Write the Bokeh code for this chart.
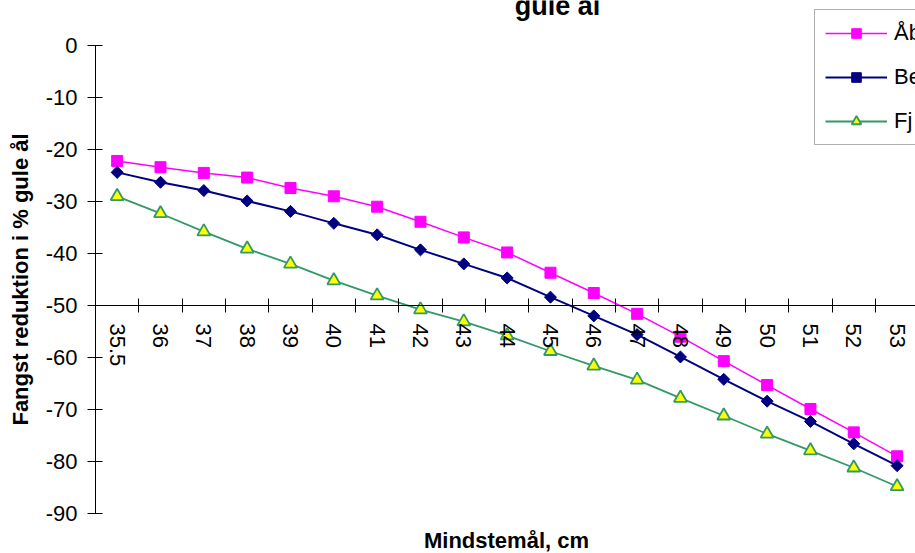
import math
from bokeh.plotting import figure
from bokeh.models import Range1d, FixedTicker, LinearAxis, Label, Legend, LegendItem
from bokeh.embed import file_html
from bokeh.resources import INLINE

categories = ["35.5", "36", "37", "38", "39", "40", "41", "42", "43", "44",
              "45", "46", "47", "48", "49", "50", "51", "52", "53"]
aab = [-22.2, -23.4, -24.5, -25.4, -27.4, -29.0, -31.0, -33.9, -36.9, -39.8,
       -43.7, -47.6, -51.6, -56.0, -60.7, -65.3, -69.9, -74.4, -79.0]
be = [-24.4, -26.3, -27.9, -29.9, -31.9, -34.2, -36.4, -39.3, -42.0, -44.7,
      -48.4, -52.0, -55.6, -59.9, -64.2, -68.4, -72.3, -76.6, -80.8]
fj = [-29.0, -32.3, -35.8, -39.1, -42.0, -45.2, -48.1, -50.8, -53.1, -55.8,
      -58.8, -61.6, -64.3, -67.8, -71.2, -74.7, -77.9, -81.2, -84.8]
y_ticks = [0, -10, -20, -30, -40, -50, -60, -70, -80, -90]
y_tick_labels = ["0", "-10", "-20", "-30", "-40", "-50", "-60", "-70", "-80", "-90"]
series_names = ["Åb", "Be", "Fj"]
title_text = "gule ål"
x_title = "Mindstemål, cm"
y_title = "Fangst reduktion i % gule ål"
x_axis_crossing = -50

FONT = "Liberation Sans"
W, H = 915, 553
# plot area in pixels (the axes are drawn inside a full-canvas frame)
AX_L, AX_T, AX_B = 95, 45, 513
xs = list(range(len(categories)))
n = len(categories)
px_per_cat = 43.33
y_min, y_max = min(y_ticks), max(y_ticks)
px_per_unit = (AX_B - AX_T) / (y_max - y_min)

x_start = -0.5 - AX_L / px_per_cat
x_end = -0.5 + (W - AX_L) / px_per_cat
y_top = y_max + AX_T / px_per_unit
y_bot = y_min - (H - AX_B) / px_per_unit

p = figure(width=W, height=H, output_backend="svg", toolbar_location=None,
           x_range=Range1d(x_start, x_end), y_range=Range1d(y_bot, y_top),
           x_axis_type=None, y_axis_type=None,
           min_border_left=0, min_border_right=0, min_border_top=0, min_border_bottom=0)
p.outline_line_color = None
p.background_fill_color = "white"
p.border_fill_color = "white"

# y axis (drawn at the left edge of the category area)
ya = LinearAxis(
    ticker=FixedTicker(ticks=y_ticks, minor_ticks=[]),
    major_label_overrides={t: s for t, s in zip(y_ticks, y_tick_labels)},
    fixed_location=-0.5, bounds=(y_min, y_max),
    major_tick_in=7, major_tick_out=8, minor_tick_in=0, minor_tick_out=0,
    major_label_standoff=10,
    major_label_text_font=FONT, major_label_text_font_size="22px",
    major_label_text_color="black",
    axis_line_color="black", major_tick_line_color="black",
    axis_label=y_title, axis_label_text_font=FONT, axis_label_text_font_size="22px",
    axis_label_text_font_style="bold", axis_label_text_color="black",
    axis_label_standoff=10,
)
p.add_layout(ya, "left")

# x axis crossing at -50
xa = LinearAxis(
    ticker=FixedTicker(ticks=xs, minor_ticks=[i - 0.5 for i in range(n + 1)]),
    major_label_overrides={i: c for i, c in enumerate(categories)},
    fixed_location=x_axis_crossing, bounds=(-0.5, n - 0.5),
    major_tick_in=0, major_tick_out=0,
    minor_tick_in=7, minor_tick_out=7,
    minor_tick_line_color="black",
    axis_line_color="black",
    major_label_orientation=-math.pi / 2,
    major_label_standoff=11,
    major_label_text_font=FONT,
    major_label_text_font_size="22px",
    major_label_text_color="black",
)
p.add_layout(xa, "below")
p.grid.visible = False

# series
l1 = p.line(xs, aab, line_color="#FF00FF", line_width=1.5)
s1 = p.scatter(xs, aab, marker="square", size=11, fill_color="#FF00FF", line_color="#FF00FF")
l2 = p.line(xs, be, line_color="#000080", line_width=2)
s2 = p.scatter(xs, be, marker="square", angle=math.pi / 4, size=8.5,
               fill_color="#000080", line_color="#000080")
l3 = p.line(xs, fj, line_color="#339966", line_width=1.8)
s3 = p.scatter(xs, fj, marker="triangle", size=13, fill_color="#FFFF00", line_color="#339966",
               line_width=1.8)

legend = Legend(items=[
    LegendItem(label=series_names[0], renderers=[l1, s1]),
    LegendItem(label=series_names[1], renderers=[l2, s2]),
    LegendItem(label=series_names[2], renderers=[l3, s3]),
], location=(814, H - 145), orientation="vertical")
legend.label_text_font = FONT
legend.label_text_font_size = "22px"
legend.label_text_color = "black"
legend.label_standoff = 7
legend.glyph_width = 62
legend.glyph_height = 24
legend.label_height = 24
legend.spacing = 18
legend.padding = 10
legend.margin = 0
legend.border_line_color = "#606060"
legend.border_line_width = 1.5
legend.background_fill_color = "white"
legend.background_fill_alpha = 1
p.add_layout(legend)

p.add_layout(Label(x=557, y=H - 5, x_units="screen", y_units="screen", text=title_text,
                   text_align="center", text_baseline="alphabetic",
                   text_font=FONT, text_font_size="27px", text_font_style="bold",
                   text_color="black"))
p.add_layout(Label(x=506, y=H - 540, x_units="screen", y_units="screen", text=x_title,
                   text_align="center", text_baseline="alphabetic",
                   text_font=FONT, text_font_size="22px", text_font_style="bold",
                   text_color="black"))

open("out.html", "w").write(file_html(p, INLINE))
